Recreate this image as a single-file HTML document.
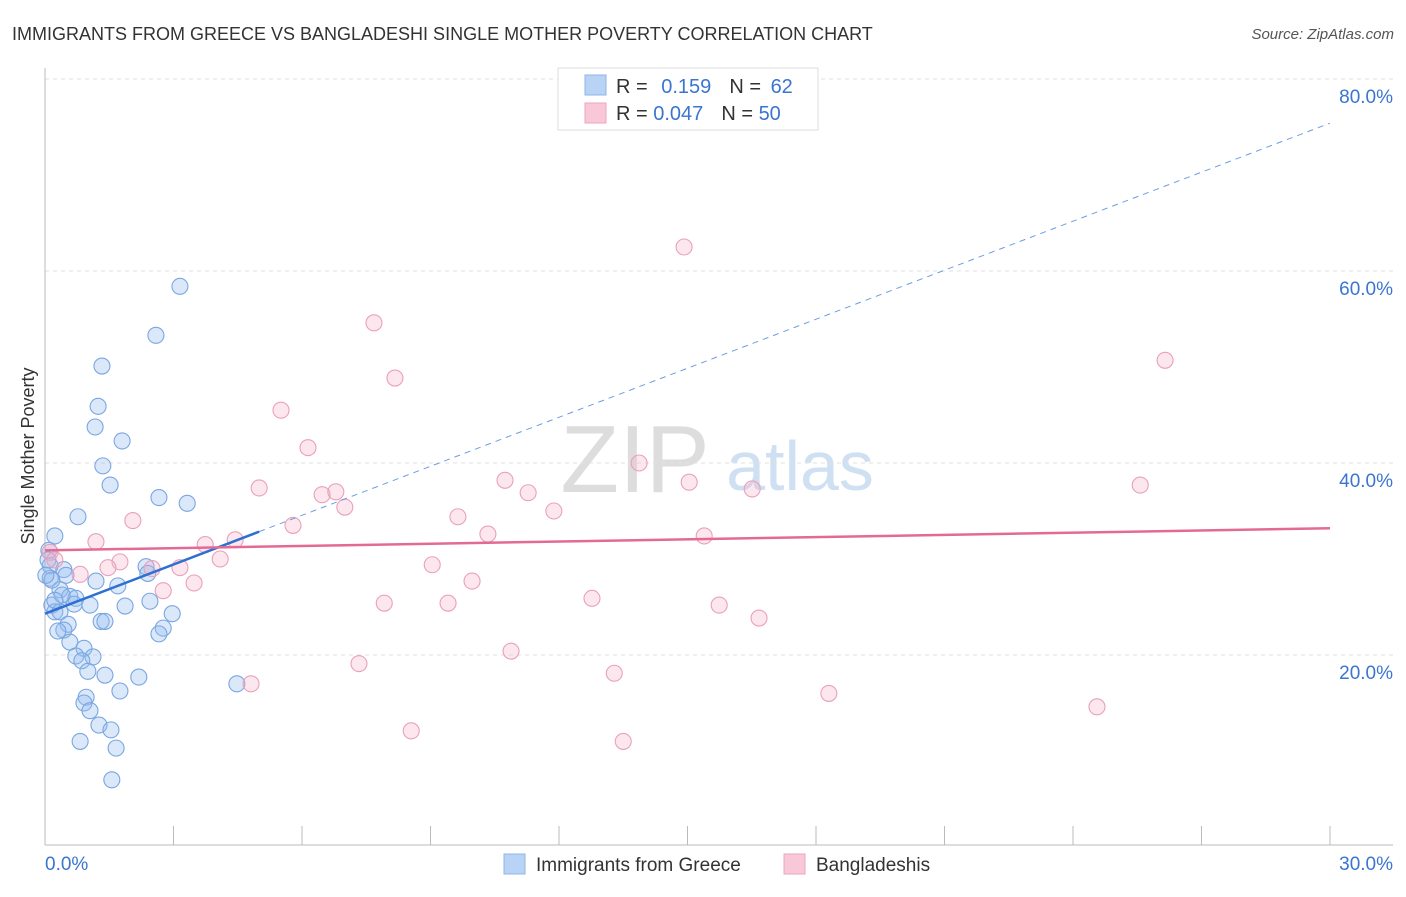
<!DOCTYPE html>
<html><head><meta charset="utf-8"><style>
body{margin:0;background:#fff;font-family:"Liberation Sans",sans-serif}
svg text{font-family:"Liberation Sans",sans-serif}
</style></head><body>
<svg id="c" width="1406" height="892" xmlns="http://www.w3.org/2000/svg">
<text x="12" y="40" font-size="18" fill="#333">IMMIGRANTS FROM GREECE VS BANGLADESHI SINGLE MOTHER POVERTY CORRELATION CHART</text>
<text x="1394" y="39" font-size="15" fill="#555" font-style="italic" text-anchor="end">Source: ZipAtlas.com</text>
<text transform="translate(34,456) rotate(-90)" font-size="18" fill="#333" text-anchor="middle">Single Mother Poverty</text>
<g><text x="635" y="492" font-size="96" font-family="Liberation Serif" fill="#ddd" text-anchor="middle">ZIP</text><text x="800" y="490" font-size="70" fill="#cfe0f3" text-anchor="middle">atlas</text></g>
<g id="grid"></g><g id="axes"></g><g id="pts"></g><g id="lines"></g>
<g>
<rect x="558" y="68" width="260" height="62" fill="#fff" stroke="#ddd"/>
<rect x="585" y="75" width="21" height="20" fill="#b8d3f5" stroke="#8fb5e8"/>
<rect x="585" y="103" width="21" height="20" fill="#f9c8d8" stroke="#eea5be"/>
<text x="616" y="93" font-size="20" fill="#333">R = <tspan fill="#3a75d0" dx="8">0.159</tspan><tspan dx="18" fill="#333">N = </tspan><tspan fill="#3a75d0" dx="4">62</tspan></text>
<text x="616" y="120" font-size="20" fill="#333">R = <tspan fill="#3a75d0">0.047</tspan><tspan dx="18" fill="#333">N = </tspan><tspan fill="#3a75d0">50</tspan></text>
</g>
<g>
<rect x="504" y="854" width="21" height="20" fill="#b8d3f5" stroke="#8fb5e8"/>
<text x="536" y="871" font-size="19" fill="#333">Immigrants from Greece</text>
<rect x="784" y="854" width="21" height="20" fill="#f9c8d8" stroke="#eea5be"/>
<text x="816" y="871" font-size="19" fill="#333">Bangladeshis</text>
</g>
</svg>
<script>
const yTicks=[20,40,60,80];
const yTickLabels=["20.0%","40.0%","60.0%","80.0%"];
const xTickLabels=["0.0%","30.0%"];
const greeceX=[3.15,2.59,1.33,1.24,1.17,1.80,1.35,1.52,0.77,2.66,3.32,0.23,0.09,0.12,0.44,0.49,0.12,2.36,2.40,1.19,1.70,0.35,0.58,0.72,0.68,1.05,1.87,2.45,0.16,0.23,0.35,1.31,1.40,2.97,0.54,0.44,0.30,2.76,2.66,0.58,0.91,0.72,1.12,0.86,1.00,1.40,2.19,4.48,0.96,0.91,1.05,1.75,1.26,1.54,0.82,1.66,1.56,0.07,0.16,0.40,0.02,0.23];
const greeceY=[58.4,53.3,50.1,45.9,43.75,42.3,39.7,37.7,34.4,36.4,35.8,32.4,30.9,29.3,28.9,28.3,28.0,29.2,28.5,27.7,27.2,26.8,26.1,25.9,25.3,25.2,25.1,25.6,25.2,24.5,24.5,23.5,23.5,24.3,23.2,22.6,22.5,22.8,22.2,21.35,20.7,19.9,19.8,19.4,18.3,17.9,17.7,17.0,15.6,15.0,14.2,16.25,12.7,12.2,11.0,10.3,7.0,29.9,27.8,26.25,28.3,25.7];
const banglaX=[14.92,7.68,8.17,26.15,5.51,6.14,13.87,5.0,6.47,6.79,7.0,10.74,11.28,15.04,16.51,25.57,2.05,5.79,9.64,11.88,10.34,1.19,3.74,4.44,15.39,0.12,0.23,1.75,1.47,0.82,2.5,3.15,4.09,3.48,2.76,9.04,9.97,7.92,9.41,12.77,15.74,16.67,10.88,7.33,13.29,18.3,24.56,4.81,8.55,13.5];
const banglaY=[62.5,54.6,48.85,50.7,45.5,41.6,40.0,37.4,36.7,37.0,35.4,38.2,36.9,38.0,37.3,37.7,34.0,33.5,34.4,35.0,32.6,31.8,31.5,32.0,32.4,30.7,29.9,29.7,29.1,28.4,29.0,29.1,30.0,27.5,26.7,29.4,27.7,25.4,25.4,25.9,25.2,23.85,20.4,19.1,18.1,16.0,14.6,17.0,12.1,11.0];
const greeceTrend=[[0,24.3],[5.0,32.85],[30,75.4]];
const banglaTrend=[[0,30.9],[30,33.2]];
const NS="http://www.w3.org/2000/svg";
const X=v=>45+v*(1285/30), Y=v=>847-v*9.6;
function mk(t,a,p){const e=document.createElementNS(NS,t);for(const k in a)e.setAttribute(k,a[k]);document.getElementById(p).appendChild(e);return e;}
yTicks.forEach((t,i)=>{
 let l=mk('line',{x1:45,x2:1393,y1:Y(t),y2:Y(t),stroke:'#e2e2e2','stroke-dasharray':'4,4'},'grid');
 
 
 let tx=mk('text',{x:1393,y:Y(t)+24,'font-size':19,fill:'#3a75d0','text-anchor':'end'},'grid');tx.textContent=yTickLabels[i];
 
 
});
let ax=mk('line',{x1:45,x2:1393,y1:845,y2:845,stroke:'#bbb'},'axes');


let ay=mk('line',{x1:45,x2:45,y1:68,y2:845,stroke:'#bbb'},'axes');


for(let i=0;i<=10;i++){let t=mk('line',{x1:X(i*3),x2:X(i*3),y1:826,y2:845,stroke:'#bbb'},'axes');
 
 }
[[0,'start'],[30,'end']].forEach((d,i)=>{let t=mk('text',{x:d[0]===0?45:1393,y:870,'font-size':19,fill:'#3a75d0','text-anchor':d[1]},'axes');t.textContent=xTickLabels[i];
 
 });
greeceX.forEach((v,i)=>{let c=mk('circle',{cx:X(v),cy:Y(greeceY[i]),r:8,fill:'rgba(150,190,240,0.35)',stroke:'#7aa6e0','stroke-width':1.1},'pts');
 
 });
banglaX.forEach((v,i)=>{let c=mk('circle',{cx:X(v),cy:Y(banglaY[i]),r:8,fill:'rgba(245,175,200,0.3)',stroke:'#eaa0bb','stroke-width':1.1},'pts');
 
 });
let g1=mk('line',{x1:X(greeceTrend[0][0]),y1:Y(greeceTrend[0][1]),x2:X(greeceTrend[1][0]),y2:Y(greeceTrend[1][1]),stroke:'#2f6fd0','stroke-width':2.5},'lines');


let g2=mk('line',{x1:X(greeceTrend[1][0]),y1:Y(greeceTrend[1][1]),x2:X(greeceTrend[2][0]),y2:Y(greeceTrend[2][1]),stroke:'#6c9ee0','stroke-width':1,'stroke-dasharray':'6,5'},'lines');


let b1=mk('line',{x1:X(banglaTrend[0][0]),y1:Y(banglaTrend[0][1]),x2:X(banglaTrend[1][0]),y2:Y(banglaTrend[1][1]),stroke:'#e46a96','stroke-width':2.5},'lines');


</script>
</body></html>
